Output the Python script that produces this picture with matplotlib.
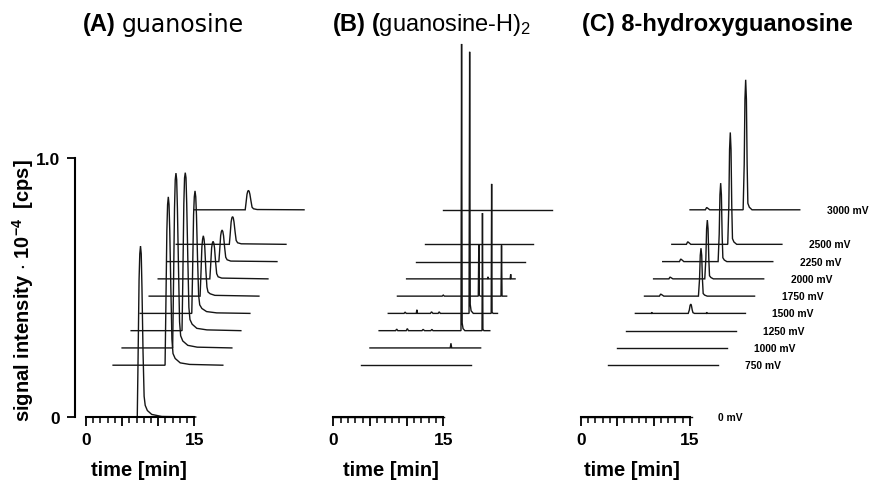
import matplotlib
matplotlib.use('Agg')
import matplotlib.pyplot as plt
from matplotlib.ticker import FixedLocator, FixedFormatter

plt.rcParams['font.family'] = ['Liberation Sans', 'DejaVu Sans']
plt.rcParams['mathtext.fontset'] = 'custom'
plt.rcParams['mathtext.rm'] = 'Liberation Sans'
plt.rcParams['mathtext.bf'] = 'Liberation Sans:bold'
plt.rcParams['mathtext.it'] = 'Liberation Sans:italic'
plt.rcParams['mathtext.default'] = 'regular'

# ---------------- data ----------------
voltages = [0, 750, 1000, 1250, 1500, 1750, 2000, 2250, 2500, 3000]
voltage_labels = ['0 mV', '750 mV', '1000 mV', '1250 mV', '1500 mV',
                  '1750 mV', '2000 mV', '2250 mV', '2500 mV', '3000 mV']
title_tags = ['(A)', '(B)', '(C)']
title_names = ['guanosine', r'$\mathbf{(}$guanosine-H)$_{2}$', '8-hydroxyguanosine']
x_tick_labels = ['0', '', '', '15']
y_tick_labels = ['0', '1.0']

# (A) guanosine: retention time [min], signal [cps x 1e-4], one list per voltage
guan_time = [
    [0, 7.1, 7.2, 7.35, 7.45, 7.55, 7.65, 7.75, 7.9, 8.05, 8.2, 8.5, 9.1, 10.5, 15.2],
    [0, 7.2, 7.3, 7.45, 7.55, 7.65, 7.75, 7.85, 8.0, 8.15, 8.3, 8.6, 9.3, 10.6, 15.2],
    [0, 7.0, 7.1, 7.26, 7.36, 7.46, 7.56, 7.66, 7.81, 7.96, 8.11, 8.4, 9.1, 10.4, 15.2],
    [0, 7.05, 7.15, 7.3, 7.4, 7.5, 7.6, 7.7, 7.85, 8.0, 8.15, 8.45, 9.1, 10.5, 15.2],
    [0, 7.15, 7.25, 7.4, 7.5, 7.6, 7.7, 7.8, 7.95, 8.1, 8.25, 8.55, 9.2, 10.6, 15.2],
    [0, 7.05, 7.15, 7.3, 7.4, 7.5, 7.6, 7.7, 7.85, 8.0, 8.15, 8.45, 9.1, 15.2],
    [0, 7.15, 7.25, 7.4, 7.5, 7.6, 7.7, 7.8, 7.95, 8.1, 8.3, 8.8, 15.2],
    [0, 7.15, 7.25, 7.4, 7.5, 7.6, 7.7, 7.8, 7.95, 8.1, 8.3, 8.8, 15.2],
    [0, 7.35, 7.45, 7.6, 7.7, 7.8, 7.9, 8.0, 8.15, 8.3, 8.5, 9.0, 15.2],
    [0, 7.05, 7.15, 7.3, 7.4, 7.5, 7.6, 7.7, 7.85, 8.0, 8.2, 8.7, 15.2],
]
guan_signal = [
    [0, 0, 0.2, 0.53, 0.63, 0.66, 0.63, 0.5, 0.25, 0.08, 0.045, 0.025, 0.01, 0.002, 0],
    [0, 0, 0.2, 0.52, 0.62, 0.65, 0.62, 0.52, 0.3, 0.1, 0.045, 0.026, 0.009, 0.003, 0],
    [0, 0, 0.2, 0.54, 0.65, 0.675, 0.65, 0.54, 0.31, 0.1, 0.047, 0.027, 0.01, 0.003, 0],
    [0, 0, 0.18, 0.49, 0.59, 0.61, 0.59, 0.49, 0.28, 0.09, 0.043, 0.025, 0.009, 0.003, 0],
    [0, 0, 0.14, 0.38, 0.45, 0.473, 0.45, 0.38, 0.21, 0.07, 0.033, 0.019, 0.007, 0.002, 0],
    [0, 0, 0.07, 0.19, 0.22, 0.233, 0.22, 0.19, 0.1, 0.035, 0.016, 0.009, 0.003, 0],
    [0, 0, 0.045, 0.12, 0.138, 0.145, 0.138, 0.12, 0.065, 0.02, 0.008, 0.003, 0],
    [0, 0, 0.037, 0.1, 0.116, 0.122, 0.116, 0.1, 0.055, 0.017, 0.007, 0.002, 0],
    [0, 0, 0.032, 0.086, 0.102, 0.107, 0.102, 0.086, 0.048, 0.015, 0.006, 0.002, 0],
    [0, 0, 0.023, 0.06, 0.071, 0.075, 0.071, 0.06, 0.034, 0.01, 0.004, 0.001, 0],
]

# (B) (guanosine-H)2
dimer_time = [
    [0, 15.1],
    [0, 15.1],
    [0, 10.95, 11.05, 11.15, 15.1],
    [0, 2.25, 2.4, 2.55, 3.7, 3.85, 4.0, 5.85, 6.0, 6.2, 7.05, 7.2, 7.35,
     11.17, 11.25, 11.33, 11.45, 11.7, 14.04, 14.1, 14.16, 14.3, 15.1],
    [0, 2.15, 2.3, 2.45, 3.82, 3.9, 3.98, 5.75, 5.9, 6.1, 6.8, 6.95, 7.1,
     11.02, 11.1, 11.18, 11.3, 11.6, 14.04, 14.1, 14.16, 14.3, 14.9],
    [0, 6.1, 6.25, 6.4, 11.03, 11.1, 11.17, 11.3, 14.13, 14.2, 14.27, 14.9],
    [0, 11.03, 11.1, 11.17, 14.13, 14.2, 14.27, 14.8],
    [0, 14.9],
    [0, 14.8],
    [0, 14.9],
]
dimer_signal = [
    [0, 0],
    [0, 0],
    [0, 0, 0.018, 0, 0],
    [0, 0, 0.006, 0, 0, 0.008, 0, 0, 0.005, 0, 0, 0.005, 0,
     0, 1.107, 0.03, 0.008, 0, 0, 0.454, 0.005, 0, 0],
    [0, 0, 0.005, 0, 0, 0.014, 0, 0, 0.006, 0, 0, 0.006, 0,
     0, 1.01, 0.035, 0.01, 0, 0, 0.5, 0.005, 0, 0],
    [0, 0, 0.004, 0, 0, 0.2, 0.004, 0, 0, 0.196, 0, 0],
    [0, 0, 0.008, 0, 0, 0.018, 0, 0],
    [0, 0],
    [0, 0],
    [0, 0],
]

# (C) 8-hydroxyguanosine
oxo_time = [
    [0, 15.2],
    [0, 15.1],
    [0, 15.1],
    [0, 15.1],
    [0, 2.2, 2.24, 2.28, 7.25, 7.4, 7.5, 7.59, 7.69, 7.8, 7.9, 8.1, 9.74, 9.78, 9.82, 15.1],
    [0, 2.05, 2.22, 2.45, 2.65, 7.4, 7.55, 7.65, 7.75, 7.85, 7.95, 8.05, 8.25, 8.6, 15.1],
    [0, 2.1, 2.25, 2.45, 2.65, 7.02, 7.17, 7.27, 7.37, 7.47, 7.57, 7.67, 7.87, 8.2, 15.1],
    [0, 2.3, 2.47, 2.7, 2.9, 7.6, 7.75, 7.85, 7.95, 8.05, 8.15, 8.25, 8.45, 8.8, 15.1],
    [0, 2.0, 2.18, 2.4, 2.6, 7.67, 7.82, 7.92, 8.02, 8.12, 8.22, 8.32, 8.52, 8.9, 15.1],
    [0, 2.1, 2.28, 2.5, 2.7, 7.28, 7.43, 7.53, 7.63, 7.73, 7.83, 7.93, 8.13, 8.5, 15.05],
]
oxo_signal = [
    [0, 0],
    [0, 0],
    [0, 0],
    [0, 0],
    [0, 0, 0.005, 0, 0, 0.013, 0.03, 0.036, 0.03, 0.013, 0.003, 0, 0, 0.005, 0, 0],
    [0, 0, 0.008, 0.004, 0, 0, 0.065, 0.157, 0.185, 0.157, 0.065, 0.01, 0.004, 0, 0],
    [0, 0, 0.007, 0.0035, 0, 0, 0.08, 0.193, 0.227, 0.193, 0.08, 0.012, 0.005, 0, 0],
    [0, 0, 0.01, 0.005, 0, 0, 0.106, 0.258, 0.303, 0.258, 0.106, 0.015, 0.006, 0, 0],
    [0, 0, 0.01, 0.005, 0, 0, 0.15, 0.367, 0.432, 0.367, 0.15, 0.022, 0.009, 0, 0],
    [0, 0, 0.009, 0.0045, 0, 0, 0.176, 0.427, 0.502, 0.427, 0.176, 0.025, 0.01, 0, 0],
]

# waterfall offsets per mV (style of the stacked plot)
X_SHIFT_PER_MV = 1 / 200.0
Y_SHIFT_PER_MV = 0.8 / 3000.0

# ---------------- layout ----------------
W, H = 874, 481
fig = plt.figure(figsize=(W / 100, H / 100), dpi=100)

Y0_PX, PX_PER_UNIT = 418.0, 259.0
YLIM = (-0.05, 1.5)


def make_axes(x0px, px_per_min, xlim):
    left = (x0px + xlim[0] * px_per_min) / W
    width = (xlim[1] - xlim[0]) * px_per_min / W
    bot_px = Y0_PX - YLIM[0] * PX_PER_UNIT
    top_px = Y0_PX - YLIM[1] * PX_PER_UNIT
    ax = fig.add_axes([left, 1 - bot_px / H, width, (bot_px - top_px) / H])
    ax.set_xlim(xlim)
    ax.set_ylim(YLIM)
    ax.patch.set_alpha(0)
    for s in ('top', 'right'):
        ax.spines[s].set_visible(False)
    ax.spines['bottom'].set_position(('data', 0))
    ax.spines['bottom'].set_bounds(0, 15)
    ax.spines['bottom'].set_linewidth(1.5)
    ax.spines['left'].set_linewidth(1.5)
    ax.xaxis.set_major_locator(FixedLocator([0, 5, 10, 15]))
    ax.xaxis.set_major_formatter(FixedFormatter(x_tick_labels))
    ax.xaxis.set_minor_locator(FixedLocator([1, 2, 3, 4, 6, 7, 8, 9, 11, 12, 13, 14]))
    ax.tick_params(axis='x', which='major', direction='out', length=6.5, width=1.3,
                   pad=4, labelsize=12.5)
    ax.tick_params(axis='x', which='minor', direction='out', length=4.5, width=1.1)
    for lab in ax.get_xticklabels():
        lab.set_fontweight('bold')
    return ax


axA = make_axes(86.0, 7.22, (-1.5, 31))
axB = make_axes(333.3, 7.33, (-1.5, 31))
axC = make_axes(580.7, 7.29, (-1.5, 36))

axA.spines['left'].set_bounds(0, 1.0)
axA.yaxis.set_major_locator(FixedLocator([0, 1.0]))
axA.yaxis.set_major_formatter(FixedFormatter(y_tick_labels))
axA.tick_params(axis='y', direction='out', length=6, width=1.3, pad=5, labelsize=12.5)
for lab in axA.get_yticklabels():
    lab.set_fontweight('bold')
for ax in (axB, axC):
    ax.spines['left'].set_visible(False)
    ax.tick_params(axis='y', left=False, labelleft=False)


def draw_traces(ax, times, signals):
    for v, t, s in zip(voltages, times, signals):
        dx = v * X_SHIFT_PER_MV
        dy = v * Y_SHIFT_PER_MV
        ax.plot([ti + dx for ti in t], [si + dy for si in s], color='#151515',
                lw=1.0, clip_on=False, solid_joinstyle='miter')


draw_traces(axA, guan_time, guan_signal)
draw_traces(axB, dimer_time, dimer_signal)
draw_traces(axC, oxo_time, oxo_signal)

# voltage labels at the right of panel C
for v, lab in zip(voltages, voltage_labels):
    axC.text(v * X_SHIFT_PER_MV + 18.8, v * Y_SHIFT_PER_MV, lab, ha='left', va='center',
             fontsize=7.4, fontweight='bold', clip_on=False)


def ftext(xpx, ypx, s, **kw):
    return fig.text(xpx / W, 1 - ypx / H, s, **kw)


# panel titles: bold tag followed by the compound name
ftext(83, 25, title_tags[0], ha='left', va='center', fontsize=17, fontweight='bold')
ftext(122, 25, title_names[0], ha='left', va='center', fontsize=17,
      family=['DejaVu Sans'])
ftext(333, 25, title_tags[1], ha='left', va='center', fontsize=17, fontweight='bold')
ftext(371, 25, title_names[1], ha='left', va='center', fontsize=17)
ftext(582, 25, title_tags[2] + ' ' + title_names[2], ha='left', va='center', fontsize=17,
      fontweight='bold')

# axis labels
for xc in (139, 391, 632):
    ftext(xc, 471, 'time [min]', ha='center', va='center', fontsize=14.5, fontweight='bold')
ftext(23, 291, r'signal intensity $\cdot$ 10$^{-4}$  [cps]', ha='center', va='center',
      rotation=90, fontsize=14.5, fontweight='bold')

fig.savefig('out.png', dpi=100)
